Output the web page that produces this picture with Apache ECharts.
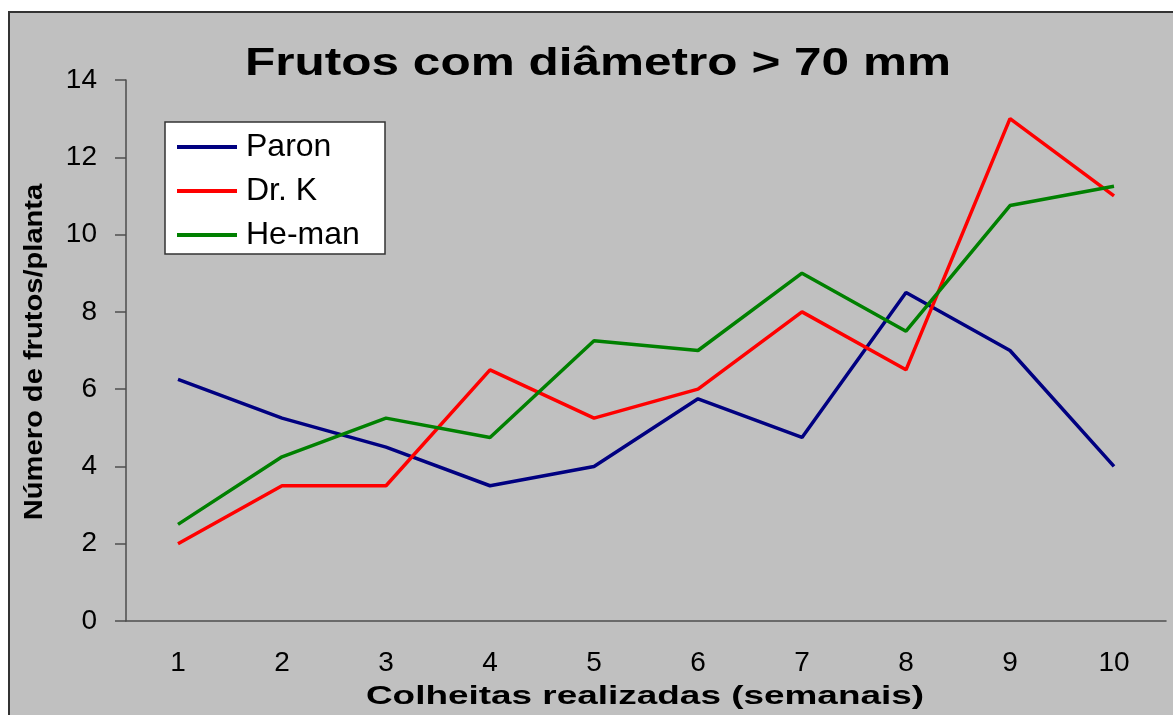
<!DOCTYPE html>
<html lang="pt">
<head>
    <meta charset="UTF-8">
    <title>Frutos com diâmetro > 70 mm</title>
    <script src="https://cdn.jsdelivr.net/npm/echarts@6/dist/echarts.min.js"></script>
    <style>
        html, body { margin: 0; padding: 0; background: #fff; }
        #chart { width: 1173px; height: 715px; }
    </style>
</head>
<body>
<div id="chart"></div>
<script>
    // dados
    const semanas = ['1', '2', '3', '4', '5', '6', '7', '8', '9', '10'];
    const paron  = [6.25, 5.25, 4.5, 3.5, 4.0, 5.75, 4.75, 8.5, 7.0, 4.0];
    const drK    = [2.0, 3.5, 3.5, 6.5, 5.25, 6.0, 8.0, 6.5, 13.0, 11.0];
    const heMan  = [2.5, 4.25, 5.25, 4.75, 7.25, 7.0, 9.0, 7.5, 10.75, 11.25];

    const font = '"Liberation Sans", Arial, sans-serif';
    const axisColor = '#4d4d4d';

    const chart = echarts.init(document.getElementById('chart'));

    const option = {
        animation: false,
        backgroundColor: '#fff',
        grid: { left: 126, right: 7, top: 80, bottom: 94 },
        graphic: [
            // fundo cinza do gráfico
            {
                type: 'rect', z: -10, silent: true,
                shape: { x: 9, y: 12, width: 1200, height: 760 },
                style: { fill: '#c0c0c0', stroke: '#333', lineWidth: 2 }
            },
            // caixa da legenda
            {
                type: 'rect', z: 3, silent: true,
                shape: { x: 165, y: 122, width: 220, height: 132 },
                style: { fill: '#fff', stroke: '#333', lineWidth: 1.5 }
            },
            {
                type: 'text', z: 10, x: 598, y: 64, scaleX: 1.27,
                style: {
                    text: 'Frutos com diâmetro > 70 mm',
                    font: 'bold 39px ' + font, fill: '#000',
                    textAlign: 'center', textVerticalAlign: 'middle'
                }
            },
            {
                type: 'text', z: 10, x: 645, y: 697, scaleX: 1.42,
                style: {
                    text: 'Colheitas realizadas (semanais)',
                    font: 'bold 26px ' + font, fill: '#000',
                    textAlign: 'center', textVerticalAlign: 'middle'
                }
            },
            {
                type: 'text', z: 10, x: 35, y: 352, rotation: Math.PI / 2, scaleX: 1.12,
                style: {
                    text: 'Número de frutos/planta',
                    font: 'bold 26px ' + font, fill: '#000',
                    textAlign: 'center', textVerticalAlign: 'middle'
                }
            }
        ],
        legend: {
            orient: 'vertical',
            left: 165, top: 122,
            padding: [9, 12, 4, 12],
            itemWidth: 60, itemHeight: 4, itemGap: 12,
            icon: 'rect',
            z: 5,
            textStyle: {
                fontFamily: font, fontSize: 32, color: '#000',
                lineHeight: 32, padding: [0, 0, 0, 4]
            },
            data: ['Paron', 'Dr. K', 'He-man']
        },
        xAxis: {
            type: 'category',
            data: semanas,
            boundaryGap: true,
            axisLine: { lineStyle: { color: axisColor, width: 1.5 } },
            axisTick: { length: 8, lineStyle: { color: axisColor, width: 1.5 } },
            axisLabel: { fontFamily: font, fontSize: 28, color: '#000', margin: 28 },
            splitLine: { show: false }
        },
        yAxis: {
            type: 'value',
            min: 0, max: 14, interval: 2,
            axisLine: { show: true, lineStyle: { color: axisColor, width: 1.5 } },
            axisTick: { show: true, length: 11, lineStyle: { color: axisColor, width: 1.5 } },
            axisLabel: { fontFamily: font, fontSize: 28, color: '#000', margin: 29 },
            splitLine: { show: false }
        },
        series: [
            {
                name: 'Paron', type: 'line', data: paron, symbol: 'none',
                itemStyle: { color: '#000080' },
                lineStyle: { color: '#000080', width: 3.5 }
            },
            {
                name: 'Dr. K', type: 'line', data: drK, symbol: 'none',
                itemStyle: { color: '#ff0000' },
                lineStyle: { color: '#ff0000', width: 3.5 }
            },
            {
                name: 'He-man', type: 'line', data: heMan, symbol: 'none',
                itemStyle: { color: '#008000' },
                lineStyle: { color: '#008000', width: 3.5 }
            }
        ]
    };

    chart.setOption(option);
</script>
</body>
</html>
